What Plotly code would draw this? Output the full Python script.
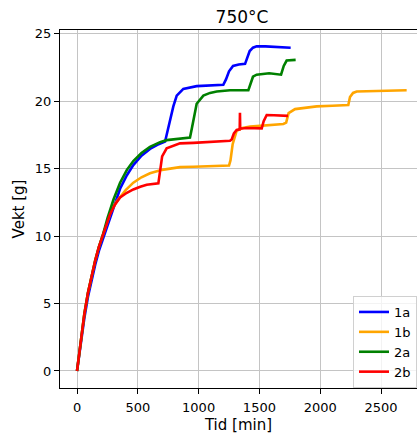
import plotly.graph_objects as go

# ---- data ----
t_1a = [0, 30, 60, 90, 120, 150, 180, 210, 244, 290, 354, 410, 463, 530, 600, 660, 724, 732, 748, 765,
        792, 820, 874, 984, 1100, 1203, 1225, 1250, 1283, 1330, 1382, 1400, 1420, 1447, 1477, 1550, 1650, 1757]
w_1a = [0, 2.0, 3.9, 5.5, 6.8, 7.9, 8.9, 9.7, 10.5, 11.9, 13.5, 14.5, 15.25, 15.95, 16.45, 16.75, 17.0, 17.3, 17.9, 18.6,
        19.6, 20.4, 20.9, 21.1, 21.15, 21.2, 21.6, 22.2, 22.6, 22.7, 22.75, 23.2, 23.7, 23.95, 24.05, 24.05, 24.0, 23.95]

t_1b = [0, 30, 60, 90, 120, 150, 180, 210, 240, 271, 290, 326, 400, 463, 530, 600, 700, 847, 957, 1100,
        1250, 1262, 1280, 1313, 1360, 1423, 1550, 1697, 1720, 1740, 1793, 1900, 1971, 2100, 2231, 2245, 2270, 2300,
        2450, 2600, 2711]
w_1b = [0, 2.2, 4.2, 5.8, 7.1, 8.2, 9.2, 10.0, 10.85, 11.65, 12.0, 12.55, 13.4, 13.95, 14.35, 14.65, 14.9, 15.1, 15.13, 15.18,
        15.22, 15.6, 16.8, 17.8, 18.0, 18.1, 18.2, 18.3, 18.4, 19.1, 19.4, 19.55, 19.6, 19.65, 19.7, 20.3, 20.6, 20.7,
        20.75, 20.8, 20.8]

t_2a = [0, 30, 60, 90, 120, 150, 180, 210, 250, 300, 354, 410, 463, 530, 600, 683, 737, 847, 929, 945,
        957, 984, 1039, 1094, 1149, 1258, 1409, 1425, 1447, 1477, 1580, 1678, 1700, 1724, 1798]
w_2a = [0, 2.2, 4.2, 5.8, 7.1, 8.2, 9.2, 10.0, 11.3, 12.7, 13.95, 14.9, 15.55, 16.15, 16.6, 16.95, 17.1, 17.24, 17.3, 18.0,
        18.6, 19.8, 20.4, 20.6, 20.7, 20.8, 20.8, 21.3, 21.8, 21.95, 22.05, 21.95, 22.6, 23.0, 23.05]

t_2b = [0, 30, 60, 90, 120, 150, 180, 210, 240, 271, 310, 354, 410, 463, 520, 573, 669, 680, 690, 700,
        737, 765, 847, 957, 1100, 1258, 1272, 1290, 1313, 1335, 1338, 1340, 1342, 1395, 1519, 1535, 1560, 1620, 1680, 1735]
w_2b = [0, 2.2, 4.2, 5.8, 7.1, 8.2, 9.2, 10.0, 10.85, 11.6, 12.3, 12.85, 13.2, 13.45, 13.65, 13.8, 13.9, 14.6, 15.4, 15.9,
        16.5, 16.6, 16.86, 16.9, 16.95, 17.05, 17.15, 17.6, 17.85, 17.9, 17.9, 19.13, 17.95, 18.0, 17.97, 18.5, 18.96, 18.95, 18.9, 18.9]

names = ["1a", "1b", "2a", "2b"]
colors = ["blue", "orange", "green", "red"]
series = [(t_1a, w_1a), (t_1b, w_1b), (t_2a, w_2a), (t_2b, w_2b)]

x_ticks = [0, 500, 1000, 1500, 2000, 2500]
y_ticks = [0, 5, 10, 15, 20, 25]

title_text = "750°C"
x_label = "Tid [min]"
y_label = "Vekt [g]"

FONT = "DejaVu Sans"

fig = go.Figure()
for (t, w), n, c in zip(series, names, colors):
    fig.add_trace(go.Scatter(x=t, y=w, mode="lines", name=n,
                             line=dict(color=c, width=2.6)))

fig.update_layout(
    width=417, height=434,
    margin=dict(l=60, r=0, t=30, b=46),
    plot_bgcolor="white", paper_bgcolor="white",
    font=dict(family=FONT, color="black", size=13),
    title=dict(text=title_text, x=242 / 417, xanchor="center", xref="container",
               y=1 - 17 / 434, yanchor="middle", yref="container",
               font=dict(family=FONT, size=17, color="black")),
    legend=dict(x=(353 - 60) / 357, y=(388 - 296) / 358, xanchor="left", yanchor="top",
                bgcolor="rgba(255,255,255,0.8)", bordercolor="#d0d0d0", borderwidth=1,
                font=dict(family=FONT, size=13, color="black")),
    showlegend=True,
)
fig.update_xaxes(range=[-140, 2796], tickvals=x_ticks, ticktext=[str(v) for v in x_ticks],
                 showgrid=True, gridcolor="#c4c4c4", gridwidth=1, zeroline=False,
                 showline=True, linecolor="black", linewidth=1, mirror=True,
                 ticks="outside", ticklen=5, tickcolor="black", ticklabelstandoff=2,
                 title=dict(text=x_label, font=dict(family=FONT, size=15), standoff=5))
fig.update_yaxes(range=[-1.26, 25.26], tickvals=y_ticks, ticktext=[str(v) for v in y_ticks],
                 showgrid=True, gridcolor="#c4c4c4", gridwidth=1, zeroline=False,
                 showline=True, linecolor="black", linewidth=1, mirror=False,
                 ticks="outside", ticklen=5, tickcolor="black",
                 title=dict(text=y_label, font=dict(family=FONT, size=15), standoff=6))

fig.write_html("out.html")
